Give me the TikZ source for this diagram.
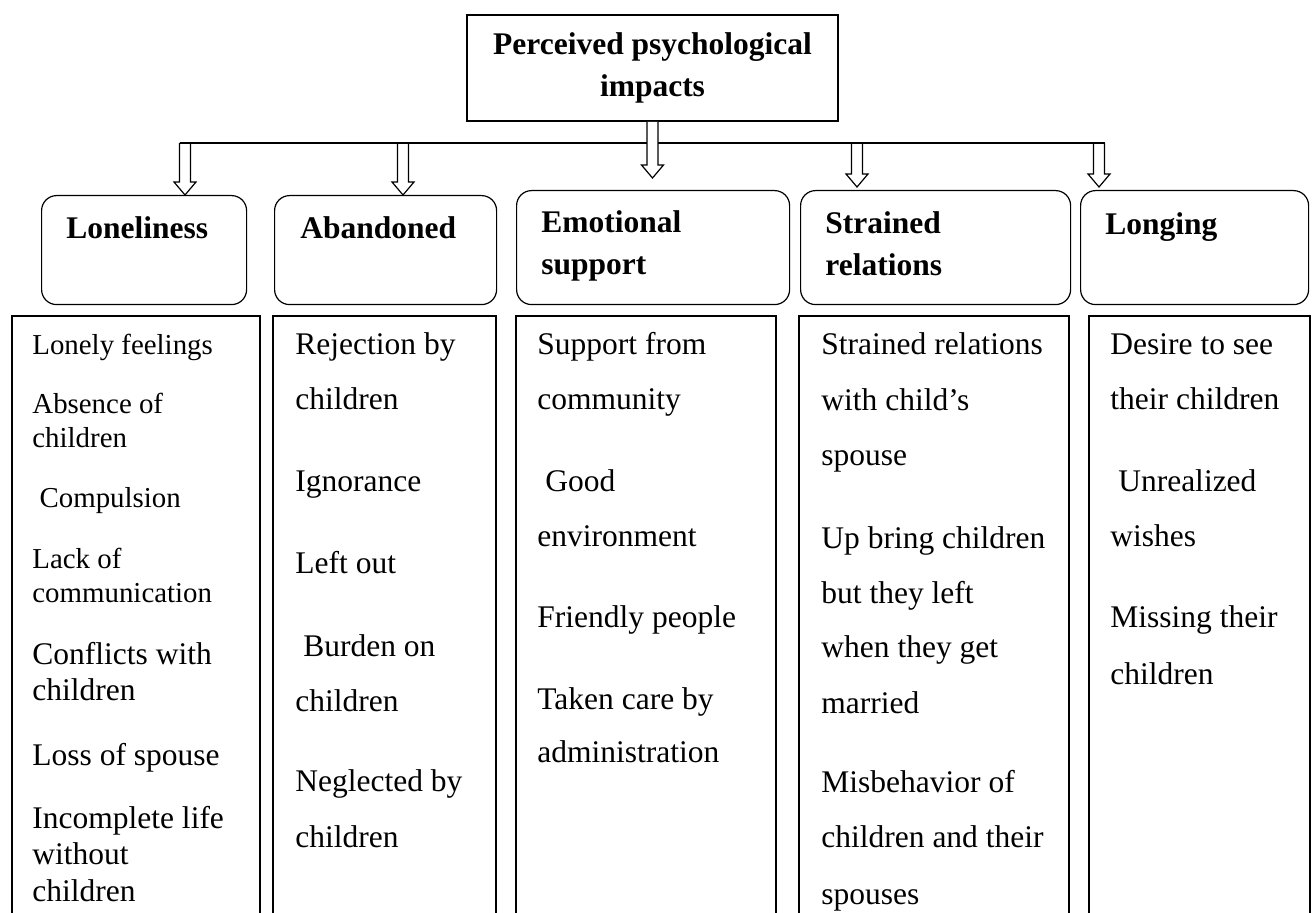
\documentclass[tikz,border=0pt]{standalone}
\usepackage{fontspec}
\setmainfont{Liberation Serif}
\usetikzlibrary{calc}

\newcommand\smallitem{\fontsize{14.44}{17}\selectfont}

\begin{document}
\begin{tikzpicture}[
    x=0.5pt, y=-0.5pt,
    topbox/.style = {
        rectangle,
        draw=black,
        line width=0.8pt,
        minimum width=185.5pt,
        minimum height=53pt,
        align=center,
        inner sep=0pt,
        font=\fontsize{15.75}{21}\selectfont\bfseries
    },
    roundbox/.style = {rectangle, draw=black, line width=0.6pt, rounded corners=7.5pt, anchor=north west, inner sep=0pt},
    head/.style     = {anchor=base west, align=left, inner sep=0pt, font=\fontsize{15.75}{21}\selectfont\bfseries},
    items/.style    = {anchor=base west, align=left, inner sep=0pt, font=\fontsize{15.75}{27.5}\selectfont},
    frame/.style    = {draw=black, line width=0.6pt},
    bus/.style      = {draw=black, line width=0.6pt},
    blockarrow/.style = {draw=black, line width=0.6pt, line join=miter,
        to path={let \p1=(\tikztostart), \p2=(\tikztotarget) in
            (\x1-2.75pt,\y1) -- (\x1-2.75pt,\y2+6.5pt) -- (\x1-5.5pt,\y2+6.5pt) -- (\x1,\y2)
            -- (\x1+5.5pt,\y2+6.5pt) -- (\x1+2.75pt,\y2+6.5pt) -- (\x1+2.75pt,\y1)}}
]

% Canvas
\fill[white] (0,0) rectangle (1312,913);
\useasboundingbox (0,0) rectangle (1312,913);

% Top box
\node[topbox] (impacts) at (652.5,68) {Perceived psychological\\impacts};

% Category boxes
\node[roundbox, minimum width=102.5pt, minimum height=54.5pt] (lone) at (41,195) {};
\node[roundbox, minimum width=111pt,   minimum height=54.5pt] (aban) at (274,195) {};
\node[roundbox, minimum width=136.5pt, minimum height=57pt]   (emo)  at (516,190) {};
\node[roundbox, minimum width=135pt,   minimum height=57pt]   (strn) at (800,190) {};
\node[roundbox, minimum width=114pt,   minimum height=57pt]   (long) at (1080,190) {};

% Headings (anchored on their last line)
\node[head] (lonehd) at (66,239)   {Loneliness};
\node[head] (abanhd) at (300,239)  {Abandoned};
\node[head] (emohd)  at (541,275)  {Emotional\\support};
\node[head] (strnhd) at (825,276)  {Strained\\relations};
\node[head] (longhd) at (1105,235) {Longing};

% Branch line and arrows
\coordinate (b1) at (185,143);
\coordinate (b2) at (403,143);
\coordinate (b4) at (857,143);
\coordinate (b5) at (1099,143);

\draw[bus] ([xshift=-2.75pt]b1) -- ([xshift=2.75pt]b5);

\draw[blockarrow] (b1) to (lone.north);
\draw[blockarrow] (b2) to (aban.north);
\draw[blockarrow, fill=white] (impacts.south) to ([yshift=6pt]emo.north);
\draw[blockarrow] (b4) to ([yshift=1.5pt]strn.north);
\draw[blockarrow] (b5) to ([yshift=1.5pt]long.north);

% Item columns (open at the bottom)
\foreach \l/\r in {12/260, 273/496, 516/776, 799/1069, 1089/1310}
    \draw[frame] (\l,913) |- (\r,316) -- (\r,913);

% Item lists (anchored on their last line)
\node[items, font=\fontsize{15.75}{17}\selectfont] (lonelist) at (32,901) {
    {\smallitem Lonely feelings}\\[12.5pt]
    {\smallitem Absence of}\\
    {\smallitem children}\\[13pt]
    {\smallitem\ Compulsion}\\[13.5pt]
    {\smallitem Lack of}\\
    {\smallitem communication}\\[14pt]
    Conflicts with\\[1pt]
    children\\[15.5pt]
    Loss of spouse\\[14.5pt]
    Incomplete life\\[1pt]
    without\\[1.5pt]
    children
};

\node[items] (abanlist) at (295,848) {
    Rejection by\\
    children\\[13.5pt]
    Ignorance\\[13.5pt]
    Left out\\[14pt]
    \ Burden on\\
    children\\[12.5pt]
    Neglected by\\[0.5pt]
    children
};

\node[items] (emolist) at (537,763) {
    Support from\\
    community\\[13.5pt]
    \ Good\\
    environment\\[13pt]
    Friendly people\\[13.5pt]
    Taken care by\\[-1pt]
    administration
};

\node[items] (strnlist) at (821,905) {
    Strained relations\\
    with child's\\
    spouse\\[14pt]
    Up bring children\\
    but they left\\
    when they get\\
    married\\[12.5pt]
    Misbehavior of\\
    children and their\\[1pt]
    spouses
};

\node[items] (longlist) at (1110,685) {
    Desire to see\\
    their children\\[13.5pt]
    \ Unrealized\\
    wishes\\[13pt]
    Missing their\\[1pt]
    children
};

\end{tikzpicture}
\end{document}
